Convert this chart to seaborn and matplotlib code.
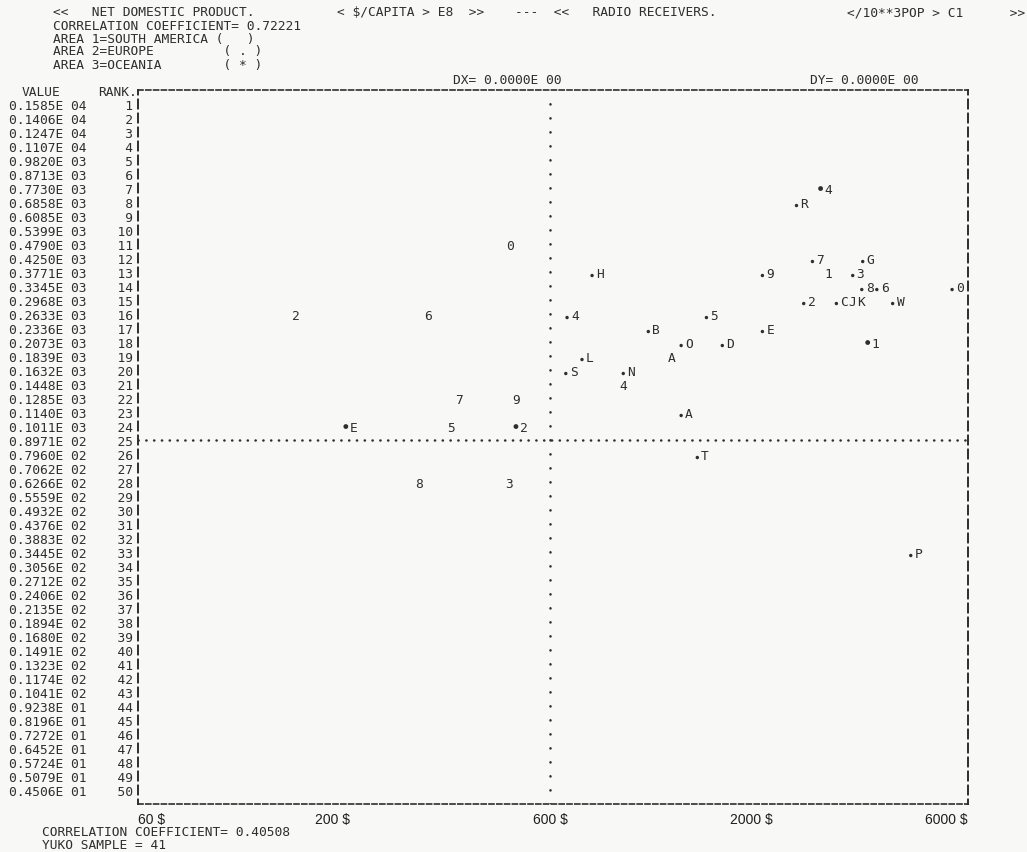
import numpy as np
import pandas as pd
import matplotlib
matplotlib.use("Agg")
import matplotlib.pyplot as plt
import matplotlib.transforms as mtransforms
from matplotlib.ticker import NullLocator
import seaborn as sns

# ---------------------------------------------------------------------------
# Data
# ---------------------------------------------------------------------------
# Radio receivers per 1000 population: value printed for each rank row
row_labels = [
    "0.1585E 04", "0.1406E 04", "0.1247E 04", "0.1107E 04", "0.9820E 03",
    "0.8713E 03", "0.7730E 03", "0.6858E 03", "0.6085E 03", "0.5399E 03",
    "0.4790E 03", "0.4250E 03", "0.3771E 03", "0.3345E 03", "0.2968E 03",
    "0.2633E 03", "0.2336E 03", "0.2073E 03", "0.1839E 03", "0.1632E 03",
    "0.1448E 03", "0.1285E 03", "0.1140E 03", "0.1011E 03", "0.8971E 02",
    "0.7960E 02", "0.7062E 02", "0.6266E 02", "0.5559E 02", "0.4932E 02",
    "0.4376E 02", "0.3883E 02", "0.3445E 02", "0.3056E 02", "0.2712E 02",
    "0.2406E 02", "0.2135E 02", "0.1894E 02", "0.1680E 02", "0.1491E 02",
    "0.1323E 02", "0.1174E 02", "0.1041E 02", "0.9238E 01", "0.8196E 01",
    "0.7272E 01", "0.6452E 01", "0.5724E 01", "0.5079E 01", "0.4506E 01",
]

# Area 2 = Europe  ( . )
eu_ids = ["R", "7", "G", "H", "9", "3", "8", "6", "0", "2", "C", "J", "K",
          "W", "4", "5", "B", "E", "O", "D", "L", "S", "N", "A", "T", "P"]
eu_gdp = [2512, 2724, 3516, 771, 2113, 3342, 3499, 3777, 5534, 2606, 3076,
          3206, 3342, 4093, 664, 1527, 1079, 2113, 1313, 1679, 726, 659, 929,
          1313, 1446, 4487]
eu_radio = [685.8, 425.0, 425.0, 377.1, 377.1, 377.1, 334.5, 334.5, 334.5,
            296.8, 296.8, 296.8, 296.8, 296.8, 263.3, 263.3, 233.6, 233.6,
            207.3, 207.3, 183.9, 163.2, 163.2, 114.0, 79.60, 34.45]

# Area 3 = Oceania  ( * )
oc_ids = ["4", "1", "E", "2"]
oc_gdp = [2839, 3606, 214, 505]
oc_radio = [773.0, 207.3, 101.1, 101.1]

# Area 1 = South America  (   )
sa_ids = ["0", "1", "2", "6", "A", "4", "7", "9", "5", "8", "3"]
sa_gdp = [470, 2839, 152, 311, 1186, 885, 365, 487, 349, 297, 468]
sa_radio = [479.0, 377.1, 263.3, 263.3, 183.9, 144.8, 128.5, 128.5, 101.1,
            62.66, 62.66]

# Net domestic product per capita, axis labels
x_ticks = [60, 200, 600, 2000, 6000]
x_tick_labels = ["60 $", "200 $", "600 $", "2000 $", "6000 $"]
# printed position of each label along the axis (axis spans 0..4)
x_tick_pos = [0.0, 0.937, 1.986, 2.957, 4.0]

split_gdp = 600          # dotted vertical divider
split_rank = 25          # dotted horizontal divider (rank row)

# ---------------------------------------------------------------------------
# Style
# ---------------------------------------------------------------------------
W_PX, H_PX = 1027, 853
BG = "#f8f8f6"
INK = "#2e2e2e"
MONO = "DejaVu Sans Mono"
MONO_SIZE = 9.3
PITCH_PT = 7.8 * 0.72          # one printer column, in points
LABEL_FONT = ["Liberation Sans Narrow", "Liberation Sans", "DejaVu Sans"]

sns.set_theme(style="white")
plt.rcParams["font.family"] = [MONO, "DejaVu Sans"]
plt.rcParams["text.color"] = INK

fig = plt.figure(figsize=(W_PX / 100, H_PX / 100), dpi=100, facecolor=BG)

left_px, right_px, top_px, bottom_px = 138, 968, 91, 805
ax = fig.add_axes([left_px / W_PX, 1 - bottom_px / H_PX,
                   (right_px - left_px) / W_PX, (bottom_px - top_px) / H_PX])
ax.set_facecolor(BG)

# x: printed dollar scale (piecewise logarithmic between the labelled points)
log_ticks = np.log10(x_ticks)


def fwd(x):
    x = np.clip(np.asarray(x, dtype=float), 1e-9, None)
    return np.interp(np.log10(x), log_ticks, x_tick_pos)


def inv(u):
    return 10 ** np.interp(np.asarray(u, dtype=float), x_tick_pos, log_ticks)


ax.set_xscale("function", functions=(fwd, inv))
ax.set_xlim(x_ticks[0], x_ticks[-1])

# y: geometric rank rows
row_vals = np.array([float(s.replace("E ", "E")) for s in row_labels])
ax.set_yscale("log")
ax.set_ylim(row_vals[-1] ** 2 / row_vals[-2], row_vals[0] ** 2 / row_vals[1])

# ---------------------------------------------------------------------------
# Points: area marker in one column, identifier in the next
# ---------------------------------------------------------------------------
df = pd.concat([
    pd.DataFrame({"area": "EUROPE", "id": eu_ids, "gdp": eu_gdp,
                  "radio": eu_radio}),
    pd.DataFrame({"area": "OCEANIA", "id": oc_ids, "gdp": oc_gdp,
                  "radio": oc_radio}),
    pd.DataFrame({"area": "SOUTH AMERICA", "id": sa_ids, "gdp": sa_gdp,
                  "radio": sa_radio}),
], ignore_index=True)

# "." sits on the text baseline, "*" prints as a heavy mid-height dot
marker_style = {"EUROPE": (6, -3.5), "OCEANIA": (12, -0.5)}
for area, (size, drop_px) in marker_style.items():
    sub = df[df["area"] == area]
    sns.scatterplot(data=sub, x="gdp", y="radio", ax=ax, s=size, color=INK,
                    edgecolor="none", marker="o", legend=False, zorder=3)
    coll = ax.collections[-1]
    coll.set_offset_transform(
        ax.transData + mtransforms.ScaledTranslation(0, drop_px / 100,
                                                     fig.dpi_scale_trans))

for _, row in df.iterrows():
    ax.annotate(row["id"], (row["gdp"], row["radio"]),
                xytext=(PITCH_PT, 0), textcoords="offset points",
                ha="center", va="center_baseline", fontsize=MONO_SIZE,
                family=MONO, color=INK, zorder=4,
                bbox=dict(boxstyle="square,pad=0.02", fc=BG, ec="none"))

# axes: ticks, labels and printer-style borders
ax.set_xlabel("")
ax.set_ylabel("")
ax.grid(False)
ax.yaxis.set_minor_locator(NullLocator())
ax.xaxis.set_minor_locator(NullLocator())
ax.set_yticks(row_vals,
              [f"{lab}    {i + 1:>2}" for i, lab in enumerate(row_labels)])
ax.tick_params(axis="y", length=0, pad=3.5, labelsize=MONO_SIZE,
               labelcolor=INK)
for t in ax.get_yticklabels():
    t.set_fontfamily(MONO)

ax.set_xticks(x_ticks, x_tick_labels)
ax.tick_params(axis="x", direction="inout", length=8, width=1.3, color=INK,
               pad=1.5, labelsize=10, labelcolor="#1e1e1e")
xl = ax.get_xticklabels()
for t in xl:
    t.set_fontfamily(LABEL_FONT)
xl[0].set_ha("left")
xl[-1].set_ha("right")

for side in ("top", "bottom"):
    sp = ax.spines[side]
    sp.set_visible(True)
    sp.set_color(INK)
    sp.set_linewidth(1.2)
    sp.set_linestyle((0, (3.0, 1.68)))
for side in ("left", "right"):
    sp = ax.spines[side]
    sp.set_visible(True)
    sp.set_color(INK)
    sp.set_linewidth(1.4)
    sp.set_linestyle((2.3, (4.6, 2.6)))

# dotted dividers
lw_dot = 1.8
ax.axhline(row_vals[split_rank - 1], color=INK, lw=lw_dot,
           ls=(0, (0.1, PITCH_PT / lw_dot - 0.1)), dash_capstyle="round",
           zorder=1)
row_pt = (bottom_px - top_px) / 51 * 0.72
ax.axvline(split_gdp, color=INK, lw=lw_dot,
           ls=(0, (0.1, row_pt / lw_dot - 0.1)), dash_capstyle="round",
           zorder=1)


# ---------------------------------------------------------------------------
# Printed header and footer lines
# ---------------------------------------------------------------------------
def put(x_px, y_px, s, **kw):
    kw.setdefault("fontsize", MONO_SIZE)
    kw.setdefault("family", MONO)
    kw.setdefault("color", INK)
    fig.text(x_px / W_PX, 1 - y_px / H_PX, s, va="center", ha="left", **kw)


put(53, 13, "<<   NET DOMESTIC PRODUCT.")
put(337, 13, "< $/CAPITA > E8  >>")
put(515, 13, "---  <<   RADIO RECEIVERS.")
put(847, 13, "</10**3POP > C1      >>")
put(53, 26, "CORRELATION COEFFICIENT= 0.72221")
put(53, 39, "AREA 1=SOUTH AMERICA (   )")
put(53, 52, "AREA 2=EUROPE         ( . )")
put(53, 65, "AREA 3=OCEANIA        ( * )")
put(453, 80, "DX= 0.0000E 00")
put(810, 80, "DY= 0.0000E 00")
put(22, 92, "VALUE")
put(98, 92, "RANK.")
put(42, 833, "CORRELATION COEFFICIENT= 0.40508")
put(42, 846, "YUKO SAMPLE = 41")

fig.savefig("out.png", dpi=100, facecolor=BG)
